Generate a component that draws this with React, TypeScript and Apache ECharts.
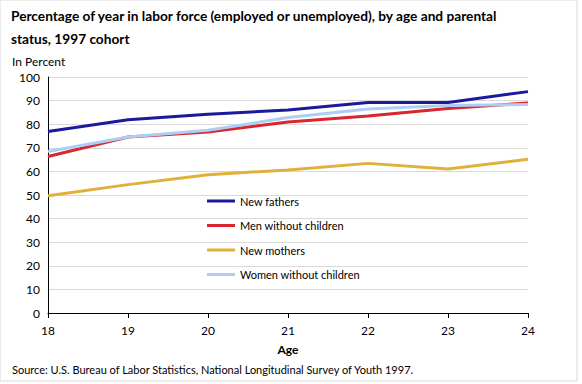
import React, { useEffect, useRef } from "react";
import * as echarts from "echarts";

const ages = ["18", "19", "20", "21", "22", "23", "24"];
const newFathers = [76.9, 81.9, 84.2, 86.0, 89.2, 89.2, 93.8];
const menWithoutChildren = [66.3, 74.6, 76.7, 80.9, 83.5, 86.7, 89.0];
const newMothers = [49.7, 54.4, 58.6, 60.6, 63.4, 61.0, 65.1];
const womenWithoutChildren = [68.4, 74.6, 77.4, 82.8, 86.4, 87.9, 88.3];

const titleText =
  "Percentage of year in labor force (employed or unemployed), by age and parental\nstatus, 1997 cohort";
const yAxisName = "In Percent";
const xAxisName = "Age";
const sourceText =
  "Source: U.S. Bureau of Labor Statistics, National Longitudinal Survey of Youth 1997.";

const FONT = "Lato, 'Open Sans', sans-serif";

export default function App() {
  const ref = useRef<HTMLDivElement>(null);
  useEffect(() => {
    if (!ref.current) return;
    const chart = echarts.init(ref.current, undefined, { renderer: "svg" });
    const mk = (name: string, data: number[], color: string) => ({
      name,
      type: "line",
      data,
      showSymbol: false,
      symbol: "none",
      lineStyle: { color, width: 3 },
      itemStyle: { color },
    });
    chart.setOption({
      animation: false,
      backgroundColor: "#fff",
      textStyle: { fontFamily: FONT },
      title: {
        text: titleText,
        left: 6,
        top: -1,
        textStyle: {
          fontFamily: FONT,
          fontSize: 13.7,
          fontWeight: "bold",
          color: "#000",
          lineHeight: 23,
        },
      },
      graphic: [
        {
          type: "rect",
          shape: { x: 0, y: 0, width: 577, height: 381 },
          style: { fill: "none", stroke: "#d9d9d9", lineWidth: 1 },
          silent: true,
        },
        {
          type: "text",
          left: 12,
          top: 55,
          style: { text: yAxisName, font: `12px ${FONT}`, fill: "#000" },
        },
        {
          type: "text",
          left: 12,
          top: 364,
          style: { text: sourceText, font: `11px ${FONT}`, fill: "#000" },
        },
      ],
      legend: {
        orient: "vertical",
        left: 202,
        top: 189,
        icon: "rect",
        itemWidth: 28,
        itemHeight: 3,
        itemGap: 10.5,
        textStyle: { fontFamily: FONT, fontSize: 11, color: "#000", lineHeight: 14 },
        data: ["New fathers", "Men without children", "New mothers", "Women without children"],
      },
      grid: { left: 48, right: 54, top: 77, bottom: 71, containLabel: false },
      xAxis: {
        type: "category",
        data: ages,
        boundaryGap: false,
        name: xAxisName,
        nameLocation: "middle",
        nameGap: 30,
        nameTextStyle: { fontFamily: FONT, fontSize: 12, fontWeight: "bold", color: "#000" },
        axisLine: { lineStyle: { color: "#000", width: 1 } },
        axisTick: { show: true, length: 5, lineStyle: { color: "#000" } },
        axisLabel: { fontFamily: FONT, fontSize: 12, color: "#000", margin: 11 },
        splitLine: { show: false },
      },
      yAxis: {
        type: "value",
        min: 0,
        max: 100,
        interval: 10,
        axisLine: { show: true, lineStyle: { color: "#000", width: 1 } },
        axisTick: { show: false },
        axisLabel: { fontFamily: FONT, fontSize: 12, color: "#000", margin: 8 },
        splitLine: { lineStyle: { color: "#d9d9d9", width: 1 } },
      },
      series: [
        mk("New fathers", newFathers, "#1a1a9a"),
        mk("Men without children", menWithoutChildren, "#d9262e"),
        mk("New mothers", newMothers, "#e0b03a"),
        mk("Women without children", womenWithoutChildren, "#aecdf5"),
      ],
    });
    return () => chart.dispose();
  }, []);
  return <div ref={ref} style={{ width: 582, height: 384, position: "absolute", left: 0, top: 0 }} />;
}
